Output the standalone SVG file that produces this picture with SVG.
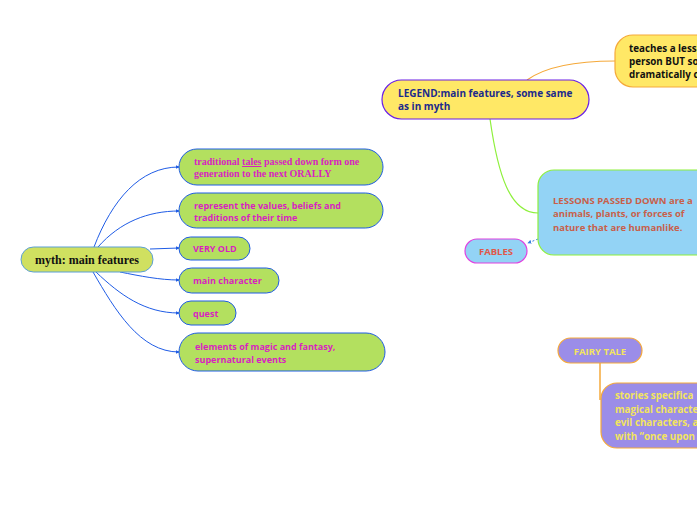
<svg xmlns="http://www.w3.org/2000/svg" width="697" height="520" viewBox="0 0 697 520">
<defs>
<style>
.sans{font-family:"Open Sans","Noto Sans","DejaVu Sans",sans-serif;font-weight:bold;}
.serif{font-family:"Liberation Serif","Times New Roman",serif;font-weight:bold;}
.feat rect{fill:#b3e05f;stroke:#1f5ce6;stroke-width:1;}
.feat text{fill:#d81fc0;font-size:9px;}
.blue{fill:none;stroke:#1f5ce6;stroke-width:1;marker-end:url(#arr);}
</style>
<marker id="arr" viewBox="0 0 6 6" refX="5" refY="3" markerWidth="4" markerHeight="4" orient="auto">
<path d="M0,0 L6,3 L0,6 z" fill="#1f5ce6"/>
</marker>
<marker id="arr2" viewBox="0 0 6 6" refX="5" refY="3" markerWidth="4" markerHeight="4" orient="auto">
<path d="M0,0 L6,3 L0,6 z" fill="#3a7fe0"/>
</marker>
</defs>
<rect width="697" height="520" fill="#ffffff"/>

<g id="connectors">
<path class="blue" d="M94,247 C112,200 140,167 179,167"/>
<path class="blue" d="M98,247 C120,222 148,211 179,211"/>
<path class="blue" d="M150,249 L179,248"/>
<path class="blue" d="M120,272 C140,276 160,280 179,280"/>
<path class="blue" d="M96,272 C120,295 145,313 179,313"/>
<path class="blue" d="M93,272 C115,310 140,352 179,352"/>
<path d="M615,61 C575,61 545,67 527,80" fill="none" stroke="#f5a93a" stroke-width="1.2"/>
<path d="M490,119 C498,175 510,213 538,213" fill="none" stroke="#8ef03c" stroke-width="1.2"/>
<path d="M538,239 L528,243" fill="none" stroke="#3a7fe0" stroke-width="1" stroke-dasharray="2,2" marker-end="url(#arr2)"/>
<path d="M600,363 L600,400" fill="none" stroke="#f5a93a" stroke-width="1.5"/>
</g>

<g id="myth">
<rect x="21" y="247" width="132" height="25" rx="12.5" fill="#d0e060" stroke="#5a9fd6" stroke-width="1"/>
<text x="87" y="264" class="serif" font-size="12" fill="#111111" text-anchor="middle">myth: main features</text>
</g>

<g id="f1" class="feat">
<rect x="179" y="149" width="204" height="36" rx="18"/>
<text x="194" y="165" class="serif" style="font-size:10px">traditional <tspan text-decoration="underline">tales</tspan> passed down form one</text>
<text x="194" y="177" class="serif" style="font-size:10px">generation to the next ORALLY</text>
</g>
<g id="f2" class="feat">
<rect x="179" y="193" width="204" height="35" rx="17.5"/>
<text x="194" y="209" class="sans">represent the values, beliefs and</text>
<text x="194" y="221" class="sans">traditions of their time</text>
</g>
<g id="f3" class="feat">
<rect x="179" y="237" width="71" height="23" rx="11.5"/>
<text x="193" y="252" class="sans">VERY OLD</text>
</g>
<g id="f4" class="feat">
<rect x="179" y="268" width="100" height="25" rx="12.5"/>
<text x="193" y="284" class="sans">main character</text>
</g>
<g id="f5" class="feat">
<rect x="179" y="301" width="57" height="24" rx="12"/>
<text x="193" y="317" class="sans">quest</text>
</g>
<g id="f6" class="feat">
<rect x="179" y="333" width="206" height="38" rx="19"/>
<text x="195" y="350" class="sans">elements of magic and fantasy,</text>
<text x="195" y="363" class="sans">supernatural events</text>
</g>

<g id="legend">
<rect x="382" y="80" width="207" height="39" rx="19.5" fill="#ffe866" stroke="#6a1fe6" stroke-width="1.2"/>
<text x="398" y="97" class="sans" font-size="10" fill="#1c2a8c">LEGEND:main features, some same</text>
<text x="398" y="110" class="sans" font-size="10" fill="#1c2a8c">as in myth</text>
</g>

<g id="teaches">
<rect x="615" y="35" width="120" height="52" rx="18" fill="#ffe866" stroke="#f5a93a" stroke-width="1.2"/>
<text x="629" y="52" class="sans" font-size="9.8" fill="#111111">teaches a less</text>
<text x="629" y="65" class="sans" font-size="9.8" fill="#111111">person BUT so</text>
<text x="629" y="78" class="sans" font-size="9.8" fill="#111111">dramatically c</text>
</g>

<g id="lessons">
<rect x="538" y="170" width="200" height="85" rx="16" fill="#93d3f5" stroke="#8ef03c" stroke-width="1.2"/>
<text x="553" y="204" class="sans" font-size="9.5" fill="#c8604a">LESSONS PASSED DOWN are a</text>
<text x="553" y="217" class="sans" font-size="9.5" fill="#c8604a">animals, plants, or forces of</text>
<text x="553" y="231" class="sans" font-size="9.5" fill="#c8604a">nature that are humanlike.</text>
</g>

<g id="fables">
<rect x="465" y="239" width="62" height="24" rx="12" fill="#93d3f5" stroke="#e040e0" stroke-width="1.2"/>
<text x="496" y="255" class="sans" font-size="9.5" fill="#e0584a" text-anchor="middle">FABLES</text>
</g>

<g id="fairytale">
<rect x="558" y="338" width="84" height="25" rx="12.5" fill="#9b8de8" stroke="#f5a93a" stroke-width="1.2"/>
<text x="600" y="355" class="sans" font-size="9.5" fill="#f2e45e" text-anchor="middle">FAIRY TALE</text>
</g>

<g id="stories">
<rect x="601" y="383" width="140" height="65" rx="16" fill="#9b8de8" stroke="#f5a93a" stroke-width="1.2"/>
<text x="615" y="399" class="sans" font-size="9.8" fill="#f2e45e">stories specifica</text>
<text x="615" y="413" class="sans" font-size="9.8" fill="#f2e45e">magical characte</text>
<text x="615" y="426" class="sans" font-size="9.8" fill="#f2e45e">evil characters, a</text>
<text x="615" y="440" class="sans" font-size="9.8" fill="#f2e45e">with “once upon</text>
</g>
</svg>
